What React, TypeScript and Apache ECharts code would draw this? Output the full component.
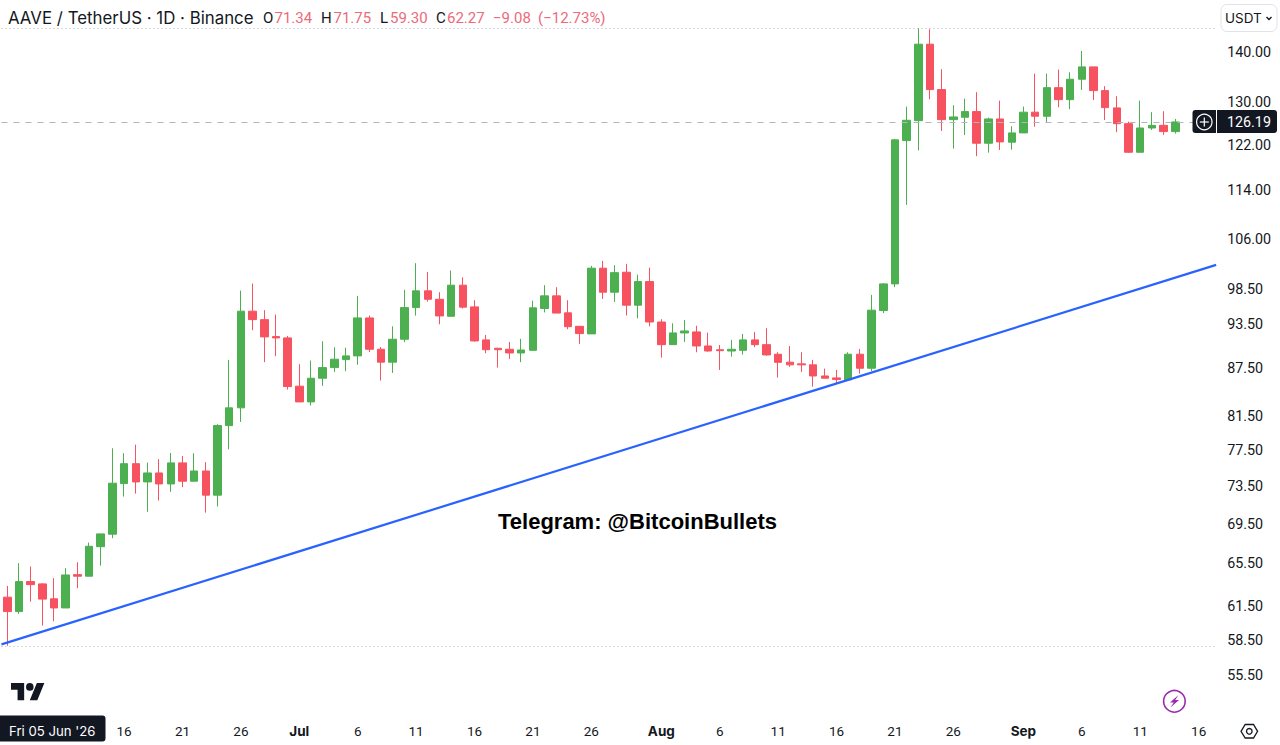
import { useEffect, useRef } from "react";
import * as echarts from "echarts";

const INK = "#131722";
const UP = "#4caf50";
const DOWN = "#f7525f";
const SOFT_DOWN = "#ec6a7b";
const FONT = "Inter, sans-serif";
const NUM_FONT = "Roboto, sans-serif";

const categories = [
  "Jun 6", "Jun 7", "Jun 8", "Jun 9", "Jun 10", "Jun 11", "Jun 12", "Jun 13", "Jun 14", "Jun 15", "Jun 16", "Jun 17", "Jun 18", "Jun 19", "Jun 20", "Jun 21", "Jun 22", "Jun 23", "Jun 24", "Jun 25", "Jun 26", "Jun 27", "Jun 28", "Jun 29", "Jun 30",
  "Jul 1", "Jul 2", "Jul 3", "Jul 4", "Jul 5", "Jul 6", "Jul 7", "Jul 8", "Jul 9", "Jul 10", "Jul 11", "Jul 12", "Jul 13", "Jul 14", "Jul 15", "Jul 16", "Jul 17", "Jul 18", "Jul 19", "Jul 20", "Jul 21", "Jul 22", "Jul 23", "Jul 24", "Jul 25", "Jul 26", "Jul 27", "Jul 28", "Jul 29", "Jul 30", "Jul 31",
  "Aug 1", "Aug 2", "Aug 3", "Aug 4", "Aug 5", "Aug 6", "Aug 7", "Aug 8", "Aug 9", "Aug 10", "Aug 11", "Aug 12", "Aug 13", "Aug 14", "Aug 15", "Aug 16", "Aug 17", "Aug 18", "Aug 19", "Aug 20", "Aug 21", "Aug 22", "Aug 23", "Aug 24", "Aug 25", "Aug 26", "Aug 27", "Aug 28", "Aug 29", "Aug 30", "Aug 31",
  "Sep 1", "Sep 2", "Sep 3", "Sep 4", "Sep 5", "Sep 6", "Sep 7", "Sep 8", "Sep 9", "Sep 10", "Sep 11", "Sep 12", "Sep 13", "Sep 14", "Sep 15", "Sep 16", "Sep 17",
];

const opens = [
  62.3, 60.98, 63.76, 63.54, 62.15, 61.31, 64.42, 64.27, 67.15, 68.41,
  73.75, 75.96, 73.93, 74.92, 73.71, 76.05, 74.01, 75.14, 72.49, 80.38, 82.53,
  95.27, 94.08, 91.74, 91.56, 85.23, 83.26, 86.24, 87.61, 88.66, 89.15, 94.32,
  90.03, 88.32, 91.38, 95.78, 98.19, 96.97, 94.55, 99.02, 95.88, 91.29, 90.16,
  90.03, 89.54, 89.89, 95.65, 97.46, 95.03, 93.15, 92.11, 101.55, 97.99, 100.94,
  96.12, 99.55, 93.75, 90.65, 92.24, 92.38, 90.47, 89.97, 89.8, 89.89, 91.29,
  90.65, 89.37, 88.32, 88.1, 87.97, 86.53, 86.28, 86.03, 89.37, 87.53, 95.36,
  99.21, 122.74, 126.43, 141.63, 132.4, 126.62, 127.07, 128.14, 122.26, 126.75,
  122.45, 124.15, 128.03, 127.26, 132.78, 130.43, 134.45, 136.94, 132.2, 128.85,
  125.86, 120.63, 125.06, 125.55, 124.39,
];

const highs = [
  63.35, 65.53, 65.2, 63.61, 64.08, 65.04, 65.62, 67.56, 68.44, 77.72,
  77.15, 78.14, 76.08, 76.47, 77.18, 76.84, 77.15, 76.13, 80.55, 88.62, 98.23,
  99.26, 95.41, 94.79, 91.83, 88.06, 88.53, 91.11, 90.3, 90.24, 97.46, 94.65,
  90.34, 93.15, 98.34, 102.31, 100.99, 97.99, 101.19, 100.19, 96.83, 91.97, 90.24,
  91.02, 91.43, 96.77, 99.02, 98.73, 96.83, 93.15, 101.9, 102.66, 102.01, 102.21,
  100.58, 101.64, 94.14, 93.57, 94.03, 93.23, 92.28, 90.61, 91.29, 92.11, 92.38,
  92.88, 89.63, 90.47, 89.63, 88.62, 87.48, 87.31, 89.63, 90.07, 97.6, 99.31,
  123.05, 129.09, 145.06, 144.82, 136.47, 129.36, 130.63, 131.89, 127.0, 130.24,
  125.37, 129.09, 135.57, 135.57, 136.39, 135.85, 140.21, 136.94, 133.07, 131.1,
  126.24, 130.24, 128.03, 128.22, 126.75,
];

const lows = [
  57.96, 60.77, 61.88, 59.72, 60.11, 61.31, 63.13, 64.27, 65.29, 68.0,
  72.34, 72.66, 70.72, 71.91, 72.85, 73.36, 74.01, 70.64, 71.28, 77.6, 80.82,
  92.61, 88.32, 89.11, 84.8, 83.26, 82.81, 85.27, 87.05, 87.14, 87.98, 89.67,
  85.94, 86.92, 90.98, 94.65, 96.63, 93.43, 94.55, 95.65, 91.06, 89.5, 87.61,
  88.75, 88.32, 89.89, 95.09, 95.0, 92.75, 90.75, 92.11, 97.02, 96.59, 94.65,
  94.27, 93.15, 88.92, 90.65, 91.02, 89.63, 89.71, 87.31, 89.05, 89.32, 90.3,
  89.15, 86.32, 87.71, 87.05, 85.18, 86.24, 85.61, 86.03, 86.83, 87.18, 95.0,
  98.73, 111.56, 120.98, 130.51, 124.51, 121.28, 123.75, 119.93, 120.56, 121.04,
  121.09, 124.15, 125.3, 126.18, 128.98, 128.6, 132.34, 130.37, 126.56, 124.28,
  120.51, 120.63, 124.7, 123.78, 124.02,
];

const closes = [
  60.98, 63.76, 63.47, 62.12, 61.31, 64.39, 64.27, 67.19, 68.44, 73.79,
  75.96, 73.93, 74.92, 73.71, 76.05, 74.01, 75.14, 72.49, 80.38, 82.53, 95.27,
  94.08, 91.7, 91.56, 85.18, 83.26, 86.24, 87.61, 88.71, 89.15, 94.32, 90.03,
  88.32, 91.38, 95.78, 98.19, 96.97, 94.6, 99.02, 95.84, 91.15, 89.97, 89.97,
  89.54, 89.93, 95.74, 97.46, 95.0, 93.1, 92.15, 101.55, 97.99, 100.88, 96.12,
  99.55, 93.75, 90.65, 92.24, 92.51, 90.47, 89.8, 89.84, 90.03, 91.29, 90.65,
  89.28, 88.3, 87.97, 87.97, 86.53, 86.24, 86.07, 89.37, 87.53, 95.41, 99.21,
  122.87, 126.5, 141.63, 132.4, 126.62, 127.13, 128.14, 122.26, 126.75, 122.5,
  124.15, 128.03, 127.26, 132.78, 130.43, 134.45, 136.94, 132.2, 128.9, 125.86,
  120.63, 125.06, 125.55, 124.39, 126.19,
];

const priceTicks = [140, 130, 122, 114, 106, 98.5, 93.5, 87.5, 81.5, 77.5, 73.5, 69.5, 65.5, 61.5, 58.5, 55.5];
const dateTicks = ["Jun 16", "Jun 21", "Jun 26", "Jul 1", "Jul 6", "Jul 11", "Jul 16", "Jul 21", "Jul 26", "Aug 1", "Aug 6", "Aug 11", "Aug 16", "Aug 21", "Aug 26", "Sep 1", "Sep 6", "Sep 11", "Sep 16"];

const periodHigh = 145.06;
const periodLow = 57.96;
const lastPrice = 126.19;
const trendLine = [[-0.5, 58.08], [103.5, 102.05]];

const ohlcTexts: [string, number, string][] = [
  ["O", 263, INK], ["71.34", 274.5, SOFT_DOWN],
  ["H", 321, INK], ["71.75", 333.5, SOFT_DOWN],
  ["L", 380, INK], ["59.30", 390, SOFT_DOWN],
  ["C", 436, INK], ["62.27", 447, SOFT_DOWN],
  ["\u22129.08", 493, SOFT_DOWN], ["(\u221212.73%)", 538, SOFT_DOWN],
];

echarts.graphic.registerShape(
  "tvLogo",
  echarts.graphic.extendPath(
    "M14 22H7V11H0V4h14v18zM28 22h-8l7.5-18h8L28 22zM24 8a4 4 0 1 1-8 0 4 4 0 0 1 8 0z",
    {},
  ),
);

const text = (t: string, x: number, y: number, fontSize: number, fill = INK, extra: any = {}) => ({
  type: "text",
  x,
  y,
  z: 20,
  silent: true,
  style: { text: t, fill, fontSize, fontFamily: FONT, textVerticalAlign: "middle", ...extra },
});

const hexagon: number[][] = [[1241, 731.3], [1245.2, 724.5], [1253.5, 724.5], [1257.6, 731.3], [1253.5, 738], [1245.2, 738]];

const overlay = [
  text("AAVE / TetherUS \u00b7 1D \u00b7 Binance", 8, 17.5, 16.85),
  ...ohlcTexts.map(([t, x, c]) => text(t, x, 17.5, 15, c, { fontFamily: NUM_FONT })),
  text("Telegram: @BitcoinBullets", 498, 521.5, 22, "#000", { fontFamily: "Liberation Sans, Arial, sans-serif", fontWeight: "bold" }),
  // price scale controls
  { type: "rect", z: 20, shape: { x: 1221, y: 4.5, width: 56, height: 27, r: 6 }, style: { fill: "#fff", stroke: "#e0e3eb", lineWidth: 1 } },
  text("USDT", 1225, 18, 13.5),
  { type: "polyline", z: 20, shape: { points: [[1266.5, 17], [1269, 19.5], [1271.5, 17]] }, style: { fill: "none", stroke: INK, lineWidth: 1.4 } },
  // last price tag
  { type: "rect", z: 20, shape: { x: 1192.5, y: 110, width: 84.5, height: 23, r: 3 }, style: { fill: INK } },
  { type: "line", z: 21, shape: { x1: 1216.5, y1: 110, x2: 1216.5, y2: 133 }, style: { stroke: "#fff", lineWidth: 1 } },
  { type: "circle", z: 21, shape: { cx: 1204.3, cy: 122, r: 7.7 }, style: { fill: "none", stroke: "#fff", lineWidth: 1.2 } },
  { type: "line", z: 21, shape: { x1: 1199.8, y1: 122, x2: 1208.8, y2: 122 }, style: { stroke: "#fff", lineWidth: 1.2 } },
  { type: "line", z: 21, shape: { x1: 1204.3, y1: 117.5, x2: 1204.3, y2: 126.5 }, style: { stroke: "#fff", lineWidth: 1.2 } },
  text("126.19", 1227, 122, 14.3, "#fff", { fontFamily: NUM_FONT }),
  // crosshair date tag
  { type: "rect", z: 20, shape: { x: -4, y: 715.5, width: 109.5, height: 26, r: 3 }, style: { fill: INK } },
  text("Fri 05 Jun '26", 9, 731, 13.2, "#fff"),
  // logo and corner icons
  { type: "tvLogo", z: 20, x: 11, y: 679.2, scaleX: 0.94, scaleY: 0.96, style: { fill: INK } },
  { type: "circle", z: 20, shape: { cx: 1174.4, cy: 701.3, r: 10.8 }, style: { fill: "none", stroke: "#9c27b0", lineWidth: 1.6 } },
  { type: "polygon", z: 20, shape: { points: [[1178.5, 695], [1170, 702.5], [1173.8, 702.5], [1170.5, 707.5], [1179, 700], [1175.2, 700]] }, style: { fill: "#9c27b0" } },
  { type: "polygon", z: 20, shape: { points: hexagon }, style: { fill: "none", stroke: INK, lineWidth: 1.3 } },
  { type: "circle", z: 20, shape: { cx: 1249.3, cy: 731.3, r: 2.8 }, style: { fill: "none", stroke: INK, lineWidth: 1.3 } },
];

const refLine = (value: number, type: any, color: string) => ({
  yAxis: value,
  lineStyle: { type, color, width: 1 },
});

export default function App() {
  const ref = useRef<HTMLDivElement>(null);

  useEffect(() => {
    if (!ref.current) return;
    const chart = echarts.init(ref.current, null, { renderer: "svg" });
    chart.setOption({
      animation: false,
      backgroundColor: "#fff",
      textStyle: { fontFamily: FONT },
      grid: { left: 1.46, top: 0, width: 1214.7, height: 716 },
      xAxis: [
        {
          type: "category",
          data: categories,
          axisLine: { show: false },
          axisTick: { show: false },
          splitLine: { show: false },
          axisLabel: {
            interval: (_: number, value: string) => dateTicks.includes(value),
            hideOverlap: false,
            margin: 8,
            color: INK,
            fontSize: 13.5,
            fontFamily: NUM_FONT,
            formatter: (value: string) => {
              const [month, day] = value.split(" ");
              return day === "1" ? `{month|${month}}` : day;
            },
            rich: { month: { fontWeight: "bold", fontSize: 13.5, fontFamily: FONT, color: INK } },
          },
        },
        { type: "value", min: -0.5, max: 103.5, show: false },
      ],
      yAxis: {
        type: "log",
        position: "right",
        min: 52.22,
        max: 151.24,
        axisLine: { show: false },
        axisTick: { show: false },
        splitLine: { show: false },
        minorTick: { show: false },
        axisLabel: {
          customValues: priceTicks,
          margin: 11,
          color: INK,
          fontSize: 14.3,
          fontFamily: NUM_FONT,
          formatter: (value: number) => Number(value).toFixed(2),
        },
      },
      graphic: overlay,
      series: [
        {
          type: "candlestick",
          xAxisIndex: 0,
          barWidth: 8,
          data: opens.map((o, i) => [o, closes[i], lows[i], highs[i]]),
          itemStyle: { color: UP, color0: DOWN, borderColor: UP, borderColor0: DOWN, borderWidth: 1 },
          markLine: {
            silent: true,
            symbol: "none",
            animation: false,
            label: { show: false },
            data: [
              refLine(periodHigh, [1, 3], "#b2b5be"),
              refLine(periodLow, [1, 3], "#b2b5be"),
              refLine(lastPrice, [6, 6], "#b2b5be"),
            ],
          },
        },
        {
          type: "line",
          xAxisIndex: 1,
          data: trendLine,
          symbol: "none",
          z: 5,
          lineStyle: { color: "#2962ff", width: 2.2 },
        },
      ],
    });
    return () => chart.dispose();
  }, []);

  return <div ref={ref} style={{ position: "absolute", left: 0, top: 0, width: 1280, height: 745 }} />;
}
